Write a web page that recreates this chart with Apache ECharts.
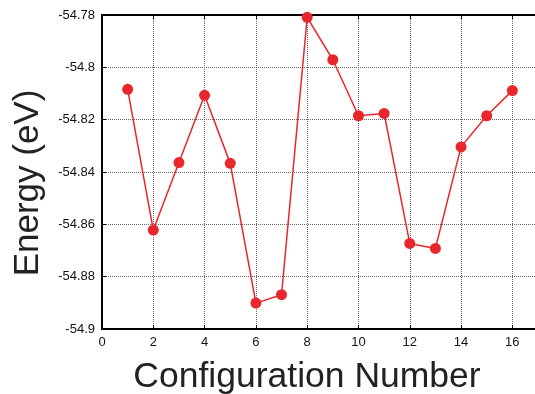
<!DOCTYPE html>
<html>
<head>
<meta charset="utf-8">
<script src="https://cdn.jsdelivr.net/npm/echarts@6/dist/echarts.min.js"></script>
<style>html,body{margin:0;padding:0;background:#fff;}#c{width:535px;height:394px;}</style>
</head>
<body>
<div id="c"></div>
<script>
const configs = [1, 2, 3, 4, 5, 6, 7, 8, 9, 10, 11, 12, 13, 14, 15, 16];
const energies = [-54.8084, -54.8622, -54.8364, -54.8107, -54.8367, -54.8901, -54.8869, -54.7809,
                  -54.7971, -54.8185, -54.8176, -54.8673, -54.8692, -54.8304, -54.8185, -54.8089];
const xTicks = [0, 2, 4, 6, 8, 10, 12, 14, 16];
const yTicks = [-54.9, -54.88, -54.86, -54.84, -54.82, -54.8, -54.78];

const font = 'Liberation Sans';
const chart = echarts.init(document.getElementById('c'), null, {renderer: 'canvas'});
chart.setOption({
  animation: false,
  grid: {left: 102, top: 15, width: 436, height: 314, containLabel: false, outerBoundsMode: 'none'},
  xAxis: [{
    type: 'value', min: 0, max: 17, interval: 2,
    name: 'Configuration Number', nameLocation: 'middle', nameGap: 30,
    nameTextStyle: {fontFamily: font, fontSize: 35.5, color: '#222', padding: [0, 26, 0, 0]},
    axisLine: {show: true, lineStyle: {color: '#000', width: 2}},
    axisTick: {show: true, inside: true, length: 4, lineStyle: {color: '#000'}},
    axisLabel: {fontFamily: font, fontSize: 13, color: '#111', margin: 7,
      formatter: v => (xTicks.indexOf(v) >= 0 ? String(v) : '')},
    splitLine: {show: true, lineStyle: {color: '#666', type: 'dotted', width: 1}}
  }, {
    type: 'value', position: 'top', min: 0, max: 17, interval: 2,
    axisLine: {show: true, lineStyle: {color: '#000', width: 2}},
    axisTick: {show: true, inside: true, length: 4, lineStyle: {color: '#000'}},
    axisLabel: {show: false}, splitLine: {show: false}
  }],
  yAxis: {
    type: 'value', min: -54.9, max: -54.78, interval: 0.02,
    name: 'Energy (eV)', nameLocation: 'middle', nameGap: 56,
    nameTextStyle: {fontFamily: font, fontSize: 35, color: '#222', padding: [0, 22, 0, 0]},
    axisLine: {show: true, lineStyle: {color: '#000', width: 2}},
    axisTick: {show: true, inside: true, length: 4, lineStyle: {color: '#000'}},
    axisLabel: {fontFamily: font, fontSize: 13, color: '#111', margin: 7,
      formatter: v => String(parseFloat(v.toFixed(2)))},
    splitLine: {show: true, lineStyle: {color: '#666', type: 'dotted', width: 1}}
  },
  series: [{
    type: 'line',
    data: configs.map((c, i) => [c, energies[i]]),
    symbol: 'circle', symbolSize: 11,
    lineStyle: {color: '#e8262c', width: 1.5},
    itemStyle: {color: '#e8262c'}
  }]
});
</script>
</body>
</html>
